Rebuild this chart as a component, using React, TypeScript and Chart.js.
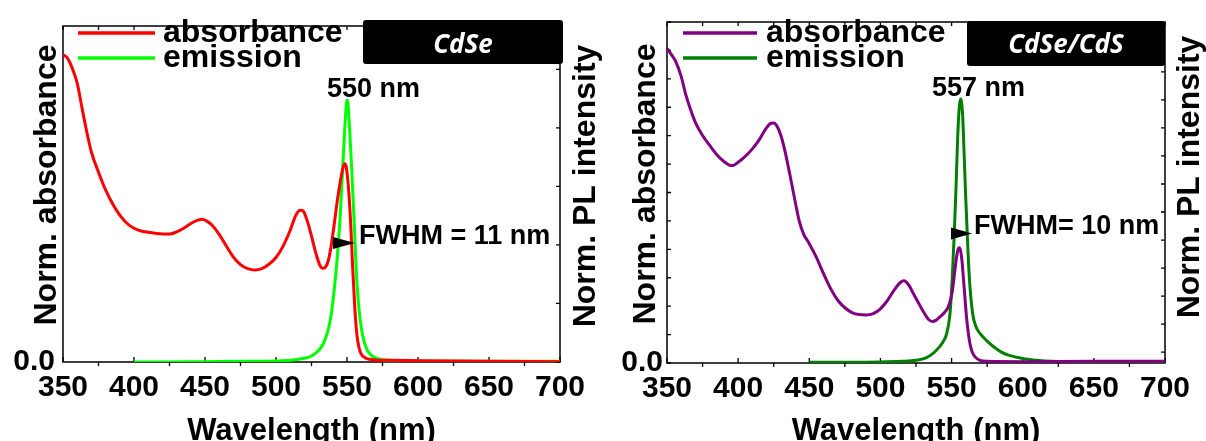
import React, { useEffect, useRef } from 'react';
import { Chart, registerables } from 'chart.js';

Chart.register(...registerables);

// ---------- data (wavelength nm, normalized value) ----------
const wavelengthTicks = [350, 400, 450, 500, 550, 600, 650, 700];

const cdseAbsorbance: [number, number][] = [
  [350, 0.915], [353, 0.905], [356, 0.88], [360, 0.83], [363, 0.765], [366, 0.7], [370, 0.625],
  [375, 0.565], [380, 0.512], [385, 0.47], [390, 0.437], [395, 0.413], [400, 0.398], [405, 0.39],
  [410, 0.386], [415, 0.383], [420, 0.381], [425, 0.381], [430, 0.387], [435, 0.398], [440, 0.412],
  [445, 0.422], [448, 0.425], [451, 0.42], [455, 0.407], [460, 0.38], [465, 0.345], [470, 0.312],
  [475, 0.29], [480, 0.278], [485, 0.274], [490, 0.278], [495, 0.291], [500, 0.311], [505, 0.345],
  [510, 0.392], [514, 0.437], [517, 0.452], [519, 0.45], [522, 0.42], [525, 0.375], [528, 0.325],
  [531, 0.287], [533, 0.279], [535, 0.283], [537, 0.305], [539, 0.35], [541, 0.41], [543, 0.475],
  [545, 0.53], [547, 0.575], [548.5, 0.59], [549.5, 0.58], [551, 0.52], [552.5, 0.42], [554, 0.28],
  [555.5, 0.16], [557, 0.08], [558.5, 0.042], [560, 0.024], [563, 0.012], [566, 0.008], [570, 0.006],
  [580, 0.005], [600, 0.004], [650, 0.002], [700, 0.001],
];

const cdseEmission: [number, number][] = [
  [400, 0.0], [420, 0.0], [450, 0.001], [480, 0.002], [500, 0.003], [510, 0.005], [520, 0.011],
  [525, 0.018], [530, 0.034], [533, 0.052], [535, 0.072], [537, 0.1], [539, 0.145], [541, 0.215],
  [543, 0.305], [545, 0.42], [547, 0.58], [548.5, 0.7], [549.5, 0.765], [550, 0.78], [550.7, 0.77],
  [552, 0.68], [553, 0.6], [555, 0.42], [557, 0.235], [559, 0.135], [561, 0.08], [563, 0.048],
  [565, 0.03], [568, 0.017], [570, 0.012], [575, 0.007], [580, 0.005], [600, 0.003], [650, 0.002],
  [700, 0.002],
];

const cdseCdsAbsorbance: [number, number][] = [
  [350, 0.923], [353, 0.905], [356, 0.885], [360, 0.84], [363, 0.79], [366, 0.75], [370, 0.705],
  [375, 0.667], [380, 0.638], [385, 0.611], [390, 0.591], [394, 0.58], [396, 0.579], [400, 0.589],
  [405, 0.606], [410, 0.628], [415, 0.656], [420, 0.69], [423, 0.703], [425, 0.704], [427, 0.697],
  [430, 0.668], [433, 0.62], [436, 0.56], [440, 0.475], [443, 0.415], [446, 0.378], [450, 0.35],
  [455, 0.31], [460, 0.262], [465, 0.218], [470, 0.184], [475, 0.162], [480, 0.148], [485, 0.142],
  [490, 0.141], [495, 0.145], [500, 0.159], [505, 0.184], [510, 0.216], [514, 0.236], [516.5, 0.241],
  [520, 0.228], [523, 0.205], [526, 0.182], [530, 0.152], [534, 0.127], [536.5, 0.122], [539, 0.125],
  [542, 0.136], [545, 0.148], [548, 0.168], [550.5, 0.21], [552, 0.26], [553.5, 0.31], [554.7, 0.335],
  [555.4, 0.338], [556.3, 0.33], [557.3, 0.3], [558.3, 0.25], [559.4, 0.192], [560.6, 0.13],
  [561.8, 0.087], [563, 0.055], [564.5, 0.032], [566.5, 0.018], [570, 0.008], [575, 0.005],
  [600, 0.004], [650, 0.005], [700, 0.005],
];

const cdseCdsEmission: [number, number][] = [
  [450, 0.002], [480, 0.002], [500, 0.003], [515, 0.005], [525, 0.008], [532, 0.015], [537, 0.028],
  [541, 0.045], [544, 0.062], [546.6, 0.087], [548.9, 0.145], [550.5, 0.25], [551.9, 0.38],
  [553, 0.5], [554, 0.627], [555, 0.725], [556.4, 0.774], [557.8, 0.725], [558.7, 0.627],
  [559.8, 0.5], [561, 0.38], [562.5, 0.25], [564.8, 0.145], [567, 0.108], [570, 0.087], [575, 0.064],
  [580, 0.046], [585, 0.032], [590, 0.023], [600, 0.013], [610, 0.008], [620, 0.005], [640, 0.004],
  [700, 0.003],
];

const seriesLabels = ['absorbance', 'emission'];
const sampleNames = ['CdSe', 'CdSe/CdS'];
const peakLabels = ['550 nm', '557 nm'];
const fwhmLabels = ['FWHM = 11 nm', 'FWHM= 10 nm'];
const yTitleLeft = 'Norm. absorbance';
const yTitleRight = 'Norm. PL intensity';
const xTitle = 'Wavelength (nm)';

// ---------- styling / layout ----------
const FONT = "'Liberation Sans', Arial, Helvetica, sans-serif";
const W = 603;
const H = 441;

type Panel = {
  abs: [number, number][];
  em: [number, number][];
  absColor: string;
  emColor: string;
  name: string;
  peak: string;
  fwhm: string;
  area: { left: number; right: number; top: number; bottom: number };
  peakPos: [number, number];
  fwhmPos: [number, number];
  arrow: [number, number, number];
  leftStep: number | null;
  y2: [number, number];
  zeroPad: number;
  legend: { x0: number; x1: number; tx: number; y: [number, number] };
  box: [number, number, number, number];
  titles: { lx: number; ly: number; rx: number; ry: number };
};

const panels: Panel[] = [
  {
    abs: cdseAbsorbance, em: cdseEmission, absColor: '#ff0000', emColor: '#00ff00',
    name: sampleNames[0], peak: peakLabels[0], fwhm: fwhmLabels[0],
    area: { left: 63, right: 560, top: 17.5, bottom: 362 },
    peakPos: [568.7, 0.79], fwhmPos: [558.4, 0.351], arrow: [540.1, 555.6, 0.354],
    leftStep: null, y2: [0, 5.74], zeroPad: 8,
    legend: { x0: 78, x1: 155, tx: 163, y: [33, 58] },
    box: [363, 20, 200, 44],
    titles: { lx: 56, ly: 185, rx: 595, ry: 186 },
  },
  {
    abs: cdseCdsAbsorbance, em: cdseCdsEmission, absColor: '#800080', emColor: '#008000',
    name: sampleNames[1], peak: peakLabels[1], fwhm: fwhmLabels[1],
    area: { left: 64, right: 562, top: 18, bottom: 363 },
    peakPos: [568.9, 0.783], fwhmPos: [565.8, 0.377], arrow: [549.6, 564.4, 0.38],
    leftStep: 1 / 12, y2: [-0.388, 11.78], zeroPad: 4,
    legend: { x0: 80, x1: 154, tx: 163, y: [33, 58] },
    box: [364, 21, 198, 45],
    titles: { lx: 52, ly: 184, rx: 596, ry: 177 },
  },
];

function decorPlugin(p: Panel) {
  return {
    id: 'decor',
    beforeDatasetsDraw(chart: any) {
      const { ctx, chartArea: a, scales } = chart;
      ctx.save();
      ctx.strokeStyle = '#000';
      ctx.lineWidth = 1.5;
      ctx.strokeRect(a.left, a.top, a.right - a.left, a.bottom - a.top);
      ctx.lineWidth = 1.3;
      ctx.beginPath();
      scales.x.ticks.forEach((t: any) => {
        const x = scales.x.getPixelForValue(t.value);
        if (t.value % 50 === 0) {
          ctx.moveTo(x, a.bottom);
          ctx.lineTo(x, a.bottom - 5);
        } else {
          ctx.moveTo(x, a.bottom);
          ctx.lineTo(x, a.bottom + 4);
        }
        ctx.moveTo(x, a.top);
        ctx.lineTo(x, a.top + 4);
      });
      scales.y2.ticks.forEach((t: any) => {
        const y = scales.y2.getPixelForValue(t.value);
        ctx.moveTo(a.right, y);
        ctx.lineTo(a.right - 4, y);
      });
      if (p.leftStep) {
        scales.y.ticks.forEach((t: any) => {
          const y = scales.y.getPixelForValue(t.value);
          ctx.moveTo(a.left, y);
          ctx.lineTo(a.left + 4, y);
        });
      }
      ctx.stroke();
      ctx.restore();
    },
    afterDatasetsDraw(chart: any) {
      const { ctx, scales } = chart;
      ctx.save();
      // legend
      chart.data.datasets.forEach((ds: any, i: number) => {
        const y = p.legend.y[i];
        ctx.strokeStyle = ds.borderColor;
        ctx.lineWidth = 3.5;
        ctx.beginPath();
        ctx.moveTo(p.legend.x0, y);
        ctx.lineTo(p.legend.x1, y);
        ctx.stroke();
        ctx.fillStyle = '#000';
        ctx.font = `bold 32px ${FONT}`;
        ctx.textAlign = 'left';
        ctx.textBaseline = 'middle';
        ctx.fillText(ds.label, p.legend.tx, y);
      });
      // sample box
      const [bx, by, bw, bh] = p.box;
      ctx.fillStyle = '#000';
      ctx.beginPath();
      (ctx as any).roundRect(bx, by, bw, bh, 3);
      ctx.fill();
      ctx.fillStyle = '#fff';
      ctx.font = `italic bold 26px 'Open Sans', 'DejaVu Sans', sans-serif`;
      ctx.textAlign = 'center';
      ctx.textBaseline = 'alphabetic';
      ctx.fillText(p.name, bx + bw / 2, 53);
      // peak annotation
      ctx.fillStyle = '#000';
      ctx.font = `bold 27px ${FONT}`;
      ctx.textAlign = 'center';
      ctx.fillText(p.peak, scales.x.getPixelForValue(p.peakPos[0]), scales.y.getPixelForValue(p.peakPos[1]));
      ctx.textAlign = 'left';
      ctx.fillText(p.fwhm, scales.x.getPixelForValue(p.fwhmPos[0]), scales.y.getPixelForValue(p.fwhmPos[1]));
      // arrow head
      const ax0 = scales.x.getPixelForValue(p.arrow[0]);
      const ax1 = scales.x.getPixelForValue(p.arrow[1]);
      const ay = scales.y.getPixelForValue(p.arrow[2]);
      ctx.beginPath();
      ctx.moveTo(ax0, ay - 6);
      ctx.lineTo(ax1, ay);
      ctx.lineTo(ax0, ay + 6);
      ctx.closePath();
      ctx.fill();
      // y titles (rotated, reading bottom to top)
      ctx.font = `bold 32px ${FONT}`;
      ctx.textAlign = 'center';
      ctx.textBaseline = 'alphabetic';
      ctx.save();
      ctx.translate(p.titles.lx, p.titles.ly);
      ctx.rotate(-Math.PI / 2);
      ctx.fillText(yTitleLeft, 0, 0);
      ctx.restore();
      ctx.save();
      ctx.translate(p.titles.rx, p.titles.ry);
      ctx.rotate(-Math.PI / 2);
      ctx.fillText(yTitleRight, 0, 0);
      ctx.restore();
      ctx.restore();
    },
  };
}

function SpectrumPanel({ p }: { p: Panel }) {
  const ref = useRef<HTMLCanvasElement>(null);
  useEffect(() => {
    if (!ref.current) return;
    const tickFont = { family: FONT, size: 30, weight: 'bold' as const };
    const chart = new Chart(ref.current, {
      type: 'line',
      data: {
        datasets: [
          {
            label: seriesLabels[0],
            data: p.abs.map(([x, y]) => ({ x, y })),
            borderColor: p.absColor,
            backgroundColor: p.absColor,
            borderWidth: 3,
            pointRadius: 0,
            tension: 0.4,
            cubicInterpolationMode: 'monotone',
          },
          {
            label: seriesLabels[1],
            data: p.em.map(([x, y]) => ({ x, y })),
            borderColor: p.emColor,
            backgroundColor: p.emColor,
            borderWidth: 3,
            pointRadius: 0,
            tension: 0.4,
            cubicInterpolationMode: 'monotone',
          },
        ],
      },
      options: {
        responsive: false,
        maintainAspectRatio: false,
        animation: false,
        layout: { padding: { left: 0, right: 0, top: p.area.top, bottom: 0 } },
        plugins: { legend: { display: false }, tooltip: { enabled: false } },
        scales: {
          x: {
            type: 'linear',
            position: 'bottom',
            min: 350,
            max: 700,
            afterFit: (s: any) => { s.height = H - p.area.bottom; },
            grid: { display: false, drawTicks: false },
            border: { display: false },
            ticks: {
              stepSize: 25,
              autoSkip: false,
              maxRotation: 0,
              minRotation: 0,
              padding: 8,
              color: '#000',
              font: tickFont,
              callback: (v: any) => (wavelengthTicks.includes(Number(v)) ? String(v) : ''),
            },
            title: {
              display: true,
              text: xTitle,
              color: '#000',
              font: { family: FONT, size: 31, weight: 'bold' },
              padding: { top: 0, bottom: -9 },
            },
          },
          y: {
            type: 'linear',
            position: 'left',
            min: 0,
            max: 1,
            afterFit: (s: any) => { s.width = p.area.left; },
            grid: { display: false, drawTicks: false },
            border: { display: false },
            ticks: {
              stepSize: p.leftStep ?? 1,
              autoSkip: false,
              includeBounds: false,
              padding: p.zeroPad,
              color: '#000',
              font: tickFont,
              callback: (v: any) => (Number(v) === 0 ? '0.0' : ''),
            },
          },
          y2: {
            type: 'linear',
            position: 'right',
            min: p.y2[0],
            max: p.y2[1],
            afterFit: (s: any) => { s.width = W - p.area.right; },
            grid: { display: false, drawTicks: false },
            border: { display: false },
            ticks: { display: false, stepSize: 1, includeBounds: false, autoSkip: false },
          },
        },
      },
      plugins: [decorPlugin(p)],
    } as any);
    return () => chart.destroy();
  }, [p]);
  return <canvas ref={ref} width={W} height={H} style={{ display: 'block', width: W, height: H }} />;
}

export default function App() {
  return (
    <div
      style={{
        position: 'absolute',
        left: 0,
        top: 0,
        width: W * 2,
        height: H,
        display: 'flex',
        background: '#fff',
        overflow: 'hidden',
      }}
    >
      {panels.map((p, i) => (
        <SpectrumPanel key={i} p={p} />
      ))}
    </div>
  );
}
